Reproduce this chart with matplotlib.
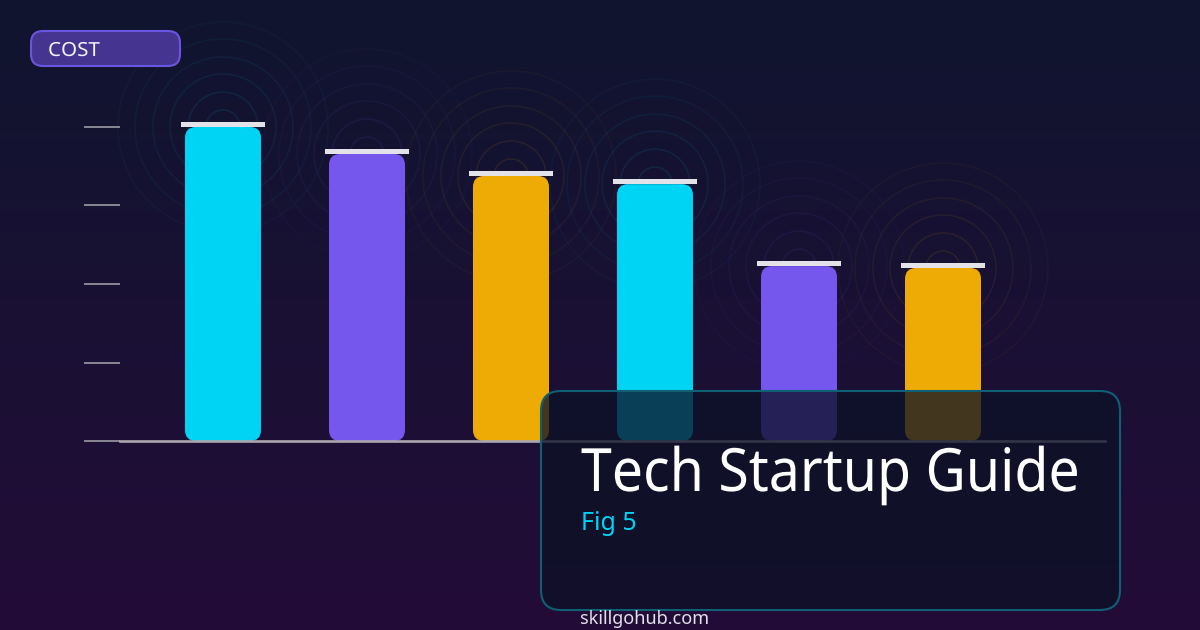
import numpy as np
import matplotlib
matplotlib.use('Agg')
import matplotlib.pyplot as plt
from matplotlib.patches import FancyBboxPatch
from matplotlib.patheffects import AbstractPathEffect
from matplotlib.transforms import Affine2D

plt.rcParams['font.family'] = ['Noto Sans', 'DejaVu Sans']

# values, top tick = 100
categories = ['A', 'B', 'C', 'D', 'E', 'F']
values = [100, 91.4, 84.4, 81.8, 55.7, 55.1]
bar_colors = ['#00d4f5', '#7557ee', '#eeab05', '#00d4f5', '#7557ee', '#eeab05']
ring_colors = ['#00d4f5', '#7557ee', '#f0ab05', '#00d4f5', '#7557ee', '#f0ab05']
y_ticks = [0, 25, 50, 75, 100]
ring_radii = [17, 35, 53, 70, 88, 105]
ring_alphas = [0.105, 0.095, 0.08, 0.065, 0.05, 0.04]

W, H = 1200, 630


# the reference font is a bit narrower or wider than Noto Sans
class StretchX(AbstractPathEffect):
    def __init__(self, x0, sx):
        super().__init__()
        self.x0 = x0
        self.sx = sx

    def draw_path(self, renderer, gc, tpath, affine, rgbFace=None):
        stretch = Affine2D().translate(-self.x0, 0).scale(self.sx, 1).translate(self.x0, 0)
        renderer.draw_path(gc, tpath, affine + stretch, rgbFace)


fig = plt.figure(figsize=(12, 6.3), dpi=100)

# background gradient
bg = fig.add_axes([0, 0, 1, 1], zorder=0)
top = np.array([16, 21, 47]) / 255
bottom = np.array([35, 12, 56]) / 255
t = np.linspace(0, 1, H)[:, None, None]
bg.imshow(top + (bottom - top) * t, aspect='auto', extent=(0, W, H, 0))
bg.axis('off')

# chart area: baseline at y=441 px, top tick at y=127 px
ax = fig.add_axes([120 / W, (H - 441) / H, 985 / W, 314 / H], zorder=1)
ax.patch.set_alpha(0)
ax.set_xlim(-103 / 144, 882 / 144)
ax.set_ylim(0, 100)
px_x = 1 / 144
px_y = 100 / 314
x = np.arange(len(values))

# rings round the top of every bar
for r, a in zip(ring_radii, ring_alphas):
    ax.scatter(x, values, s=(2 * r * 0.72) ** 2, facecolors='none',
               edgecolors=[matplotlib.colors.to_rgba(c, a) for c in ring_colors],
               linewidths=1.1, clip_on=False, zorder=1)

# rounded bars
for xi, v, c in zip(x, values, bar_colors):
    w = 76 * px_x
    ax.add_patch(FancyBboxPatch((xi - w / 2, 0), w, v,
                                boxstyle='round,pad=0,rounding_size=%f' % (11 * px_x),
                                mutation_aspect=px_y / px_x,
                                fc=c, ec='none', clip_on=False, zorder=2))

# light caps on the bars
ax.bar(x, [5 * px_y] * len(x), width=84 * px_x, bottom=values, color='#e2e2e8',
       zorder=3, clip_on=False)

ax.set_yticks(y_ticks)
ax.set_yticklabels([])
ax.set_xticks([])
ax.tick_params(axis='y', length=26, width=1.4, color='#8a8894', direction='out')
for s in ['top', 'right', 'left']:
    ax.spines[s].set_visible(False)
ax.spines['bottom'].set_color('#aaa6b0')
ax.spines['bottom'].set_linewidth(1.9)
ax.spines['bottom'].set_zorder(4)

# overlay with pill, panel and texts in pixel coordinates
ov = fig.add_axes([0, 0, 1, 1], zorder=2)
ov.set_xlim(0, W)
ov.set_ylim(H, 0)
ov.axis('off')

ov.add_patch(FancyBboxPatch((31, 31), 149, 35, boxstyle='round,pad=0,rounding_size=12',
                            fc='#453591', ec='#6a55e0', lw=1.5))
ov.text(48, 56, 'COST', fontsize=14, color='#f2f2fa', va='baseline',
        path_effects=[StretchX(48, 1.06)])

ov.add_patch(FancyBboxPatch((541, 391), 579, 219, boxstyle='round,pad=0,rounding_size=20',
                            fc=(12 / 255, 17 / 255, 38 / 255, 0.76), ec='#0f6075', lw=1.5))
ov.text(581, 491, 'Tech Startup Guide', fontsize=43, color='white', va='baseline',
        path_effects=[StretchX(581, 0.928)])
ov.text(581, 530, 'Fig 5', fontsize=18, color='#00d4f5', va='baseline')
ov.text(580, 624, 'skillgohub.com', fontsize=13, color='#e2e2ea', va='baseline')

fig.savefig('out.png', dpi=100)
